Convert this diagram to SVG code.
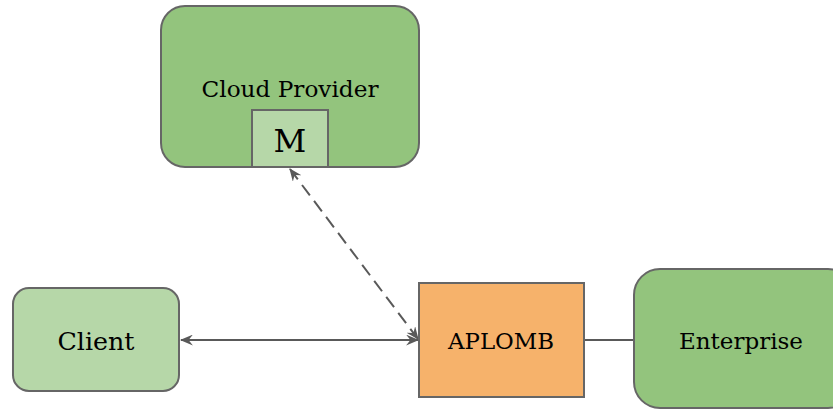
<svg xmlns="http://www.w3.org/2000/svg" width="833" height="410" viewBox="0 0 833 410">
  <style>
    .node { stroke: #666666; stroke-width: 2; }
    .dark { fill: #93c47d; }
    .light { fill: #b6d7a8; }
    .orange { fill: #f6b26b; }
    .label { font-family: "DejaVu Serif", "Liberation Serif", serif; fill: #000000; text-anchor: middle; }
    .edge { stroke: #595959; stroke-width: 2; fill: none; }
  </style>
  <defs>
    <marker id="arrow" viewBox="0 0 12 10" refX="11" refY="5" markerWidth="13" markerHeight="11" markerUnits="userSpaceOnUse" orient="auto-start-reverse">
      <path d="M0,0 L12,5 L0,10 L4,5 z" fill="#595959"/>
    </marker>
  </defs>

  <rect width="833" height="410" fill="#ffffff"/>

  <g id="connectors">
    <line class="edge" x1="181" y1="340" x2="418" y2="340" marker-start="url(#arrow)" marker-end="url(#arrow)"/>
    <line class="edge" x1="290" y1="169" x2="418" y2="339" stroke-dasharray="13,7" marker-start="url(#arrow)" marker-end="url(#arrow)"/>
    <line class="edge" x1="584" y1="340" x2="634" y2="340"/>
  </g>

  <g id="cloud-provider">
    <rect class="node dark" x="161" y="6" width="258" height="161" rx="24"/>
    <text class="label" x="290" y="97" font-size="23" textLength="177" lengthAdjust="spacingAndGlyphs">Cloud Provider</text>
  </g>

  <g id="m">
    <rect class="node light" x="252" y="110" width="76" height="57"/>
    <text class="label" x="290" y="152" font-size="32">M</text>
  </g>

  <g id="client">
    <rect class="node light" x="13" y="288" width="166" height="103" rx="16"/>
    <text class="label" x="96" y="350" font-size="25" textLength="77" lengthAdjust="spacingAndGlyphs">Client</text>
  </g>

  <g id="aplomb">
    <rect class="node orange" x="419" y="283" width="165" height="114"/>
    <text class="label" x="501" y="349" font-size="22" textLength="106" lengthAdjust="spacingAndGlyphs">APLOMB</text>
  </g>

  <g id="enterprise">
    <rect class="node dark" x="634" y="269" width="220" height="139" rx="26"/>
    <text class="label" x="741" y="349" font-size="23" textLength="124" lengthAdjust="spacingAndGlyphs">Enterprise</text>
  </g>
</svg>
